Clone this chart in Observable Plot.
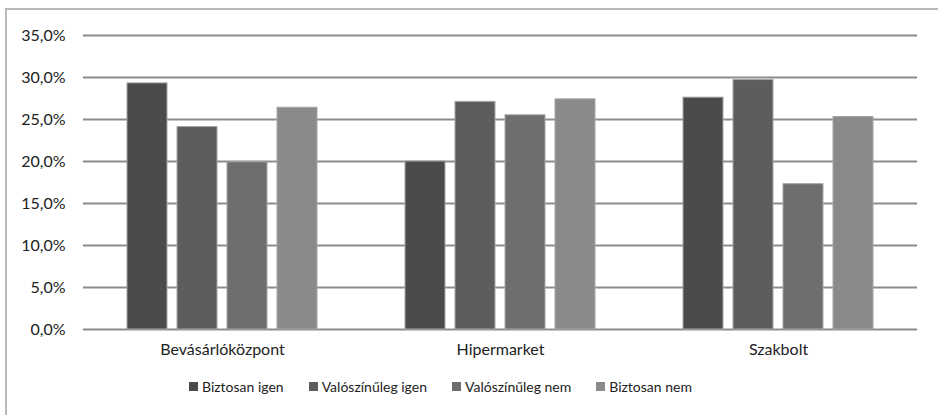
<!DOCTYPE html>
<html><head><meta charset="utf-8">
<script src="https://cdn.jsdelivr.net/npm/d3@7"></script>
<script src="https://cdn.jsdelivr.net/npm/@observablehq/plot@0.6"></script>
<style>
body{margin:0;background:#fff;font-family:Lato,"Open Sans",sans-serif;}
#wrap{position:relative;width:938px;height:415px;overflow:hidden;}
#border{position:absolute;left:5px;top:8px;width:940px;height:420px;border-top:2px solid #b8b8b8;border-left:2px solid #b8b8b8;box-sizing:border-box;}
#chart{position:absolute;left:0;top:0;}
#legend{position:absolute;top:378px;left:189px;display:flex;gap:0;font-size:14px;color:#222;}
.item{display:flex;align-items:center;margin-right:25px;}
.sw{width:9px;height:9px;margin-right:4px;}
</style></head>
<body><div id="wrap"><div id="border"></div><div id="chart"></div><div id="legend"></div></div>
<script>
const categories = ["Bevásárlóközpont", "Hipermarket", "Szakbolt"];
const seriesNames = ["Biztosan igen", "Valószínűleg igen", "Valószínűleg nem", "Biztosan nem"];
const biztosanIgen = [29.3, 20.0, 27.6];
const valoszinulegIgen = [24.1, 27.1, 29.7];
const valoszinulegNem = [19.9, 25.5, 17.3];
const biztosanNem = [26.4, 27.4, 25.3];
const yTicks = [0, 5, 10, 15, 20, 25, 30, 35];
const colors = ["#4b4b4b", "#5d5d5d", "#6e6e6e", "#8a8a8a"];

const seriesValues = [biztosanIgen, valoszinulegIgen, valoszinulegNem, biztosanNem];
const data = [];
categories.forEach((c, i) => seriesNames.forEach((s, j) => data.push({cat: c, series: s, value: seriesValues[j][i]})));

const fmt = v => v.toFixed(1).replace(".", ",") + "%";

const plot = Plot.plot({
  width: 938, height: 372,
  marginLeft: 82, marginRight: 20, marginTop: 35, marginBottom: 43,
  style: {fontFamily: "Lato, 'Open Sans', sans-serif", fontSize: "16px", color: "#222", background: "transparent"},
  fx: {domain: categories, padding: 0, label: null, tickSize: 0, tickPadding: 14},
  x: {domain: seriesNames, paddingInner: 0.2, paddingOuter: 0.848, axis: null},
  y: {domain: [0, 35], ticks: yTicks, tickFormat: fmt, tickSize: 0, tickPadding: 18, label: null},
  color: {domain: seriesNames, range: colors},
  marks: [
    Plot.ruleY(yTicks, {stroke: "#8c8c8c", strokeWidth: 2}),
    Plot.barY(data, {fx: "cat", x: "series", y: "value", fill: "series", stroke: "#a6a6a6", strokeWidth: 1})
  ]
});
document.getElementById("chart").appendChild(plot);

const lg = document.getElementById("legend");
seriesNames.forEach((s, j) => {
  const it = document.createElement("div"); it.className = "item";
  const sw = document.createElement("span"); sw.className = "sw"; sw.style.background = colors[j];
  const t = document.createElement("span"); t.textContent = s;
  it.appendChild(sw); it.appendChild(t); lg.appendChild(it);
});
</script></body></html>
